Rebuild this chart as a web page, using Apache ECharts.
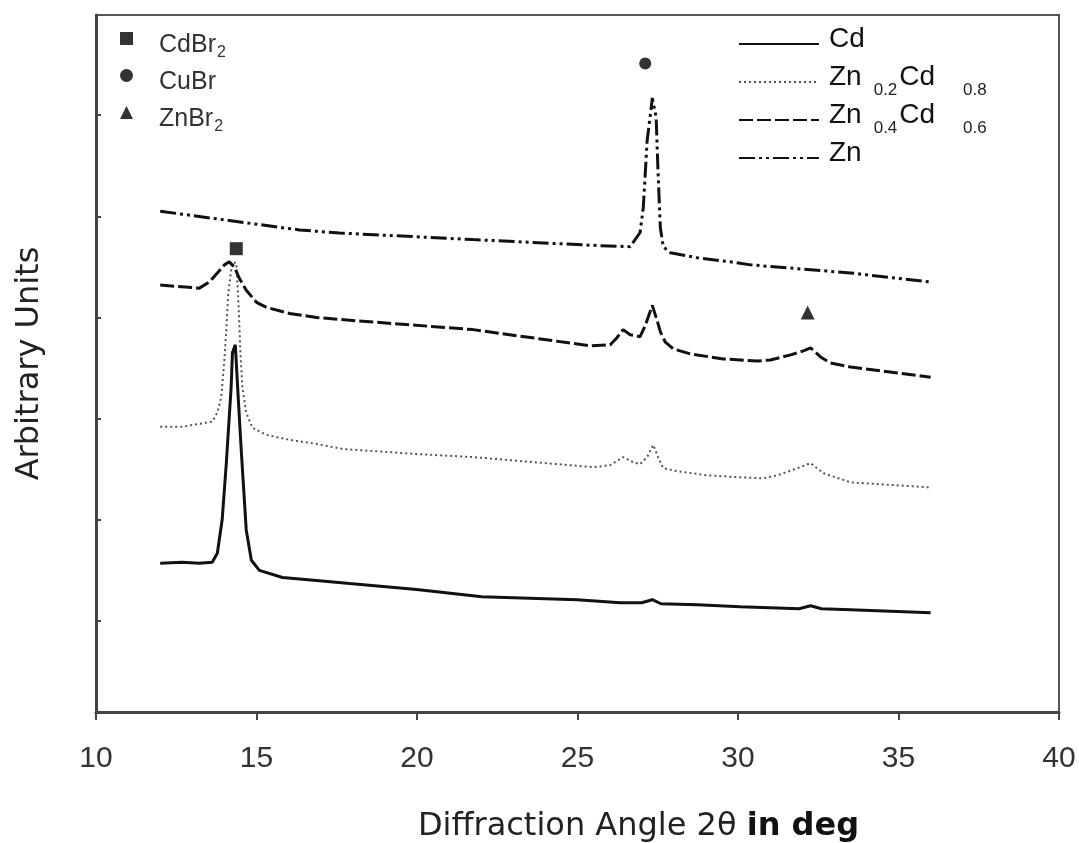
<!DOCTYPE html>
<html>
<head>
<meta charset="utf-8">
<script src="https://cdn.jsdelivr.net/npm/echarts@6/dist/echarts.min.js"></script>
<style>
html,body{margin:0;padding:0;background:#fff;}
#chart{width:1079px;height:843px;}
</style>
</head>
<body>
<div id="chart"></div>
<script>
// x: diffraction angle 2θ (deg), y: arbitrary intensity units
const cdData = [
  [12.0,57],[12.68,58],[13.22,57],[13.62,58],[13.78,67],[13.93,100],[14.06,156],[14.21,231],
  [14.25,265],[14.34,273],[14.43,221],[14.53,166],[14.68,90],[14.84,60],[15.09,50],[15.81,43],
  [16.87,40],[17.9,37],[19.99,31],[22.02,24],[24.99,21],[26.33,18],[27.0,18],[27.33,21],
  [27.6,17],[28.73,16],[30.07,14],[31.9,12],[32.26,15],[32.6,12],[33.51,11],[36.0,8]
];
const zn02Data = [
  [12.0,192],[12.68,192],[13.62,197],[13.78,206],[13.9,221],[14.0,258],[14.06,288],[14.12,324],
  [14.21,347],[14.25,354],[14.37,354],[14.43,320],[14.5,265],[14.56,231],[14.68,206],[14.87,191],
  [15.31,184],[16.03,179],[16.87,175],[17.68,170],[19.99,165],[21.74,162],[25.5,152],[26.02,154],
  [26.42,162],[26.73,157],[26.95,155],[27.17,162],[27.36,174],[27.51,162],[27.67,151],[28.11,148],
  [29.04,144],[30.07,142],[30.79,141],[31.23,144],[31.85,151],[32.26,156],[32.67,146],[33.51,137],[36.0,132]
];
const zn04Data = [
  [12.0,332],[13.22,329],[13.53,335],[13.78,344],[14.0,352],[14.15,355],[14.31,350],[14.46,339],
  [14.68,327],[15.0,315],[15.31,310],[16.03,304],[16.87,300],[17.6,298],[21.74,288],[25.39,272],
  [26.02,273],[26.23,280],[26.42,288],[26.64,283],[26.95,281],[27.11,292],[27.33,312],[27.48,297],
  [27.58,286],[27.73,276],[27.98,269],[28.51,264],[29.54,259],[30.61,257],[31.01,258],[31.64,263],
  [32.04,267],[32.26,270],[32.57,261],[32.88,255],[33.51,251],[36.0,241]
];
const znData = [
  [12.0,405],[16.34,386.5],[17.59,383.5],[21.74,377],[25.7,371],[26.64,370],[26.95,384],[27.05,409],
  [27.17,475],[27.30,508],[27.33,517],[27.45,498],[27.51,443],[27.58,389],[27.67,370],[27.89,364],
  [28.73,359],[29.76,355],[30.39,352],[33.51,344],[36.0,335]
];
// phase markers
const cdbr2Mark = [[14.37,368]];
const cubrMark = [[27.11,551]];
const znbr2Mark = [[32.17,305]];

const xTicks = [10,15,20,25,30,35,40];
const yTicks = [0,100,200,300,400,500];

const seriesNames = ['Cd','Zn0.2Cd0.8','Zn0.4Cd0.6','Zn'];
const markerNames = ['CdBr2','CuBr','ZnBr2'];

const legendRich = {
  'Cd': '{a|Cd}{s| }',
  'Zn0.2Cd0.8': '{a|Zn}{s|0.2}{a|Cd}{t|0.8}',
  'Zn0.4Cd0.6': '{a|Zn}{s|0.4}{a|Cd}{t|0.6}',
  'Zn': '{a|Zn}{s| }'
};
const markerRich = {
  'CdBr2': '{a|CdBr}{s|2}',
  'CuBr': '{a|CuBr}{s| }',
  'ZnBr2': '{a|ZnBr}{s|2}'
};

const chart = echarts.init(document.getElementById('chart'), null, {renderer:'canvas'});
const lineBase = {type:'line', showSymbol:false, symbol:'none', smooth:false, animation:false, silent:true};
const LS = "'Liberation Sans', Arial, sans-serif";

chart.setOption({
  animation:false,
  backgroundColor:'#fff',
  grid:{left:96, right:20, top:15, bottom:131, show:true, borderColor:'#555', borderWidth:2,
        containLabel:false, outerBoundsMode:'none'},
  xAxis:{
    type:'value', min:10, max:40, interval:5,
    splitLine:{show:false},
    axisLine:{onZero:false, lineStyle:{color:'#444', width:3}},
    axisTick:{inside:false, length:8, lineStyle:{color:'#444', width:2}},
    axisLabel:{margin:32, color:'#333', fontSize:30, fontFamily:LS,
      formatter: v => xTicks.indexOf(v) >= 0 ? String(v) : ''},
    name:'{n|Diffraction Angle 2θ }{b|in deg}',
    nameLocation:'middle', nameGap:99,
    nameTextStyle:{padding:[0,0,0,122], rich:{
      n:{fontFamily:'DejaVu Sans', fontSize:32, color:'#222'},
      b:{fontFamily:'DejaVu Sans', fontSize:32, fontWeight:'bold', color:'#111'}
    }}
  },
  yAxis:{
    type:'value', min:-90, max:599,
    splitLine:{show:false},
    axisLine:{show:true, onZero:false, lineStyle:{color:'#444', width:3}},
    axisTick:{show:true, inside:true, length:5, customValues:yTicks, lineStyle:{color:'#444', width:2}},
    axisLabel:{show:false},
    name:'Arbitrary Units', nameLocation:'middle', nameGap:50, nameRotate:90,
    nameTextStyle:{fontFamily:'DejaVu Sans', fontSize:32, color:'#222'}
  },
  legend:[
    {
      data:seriesNames, orient:'vertical', left:738, top:25, padding:0,
      itemWidth:80, itemHeight:14, itemGap:2, selectedMode:false,
      itemStyle:{opacity:0},
      formatter: n => legendRich[n],
      textStyle:{color:'#111', padding:[0,0,10,5], rich:{
        a:{fontFamily:LS, fontSize:28, lineHeight:28, verticalAlign:'top', color:'#111'},
        s:{fontFamily:LS, fontSize:17, lineHeight:17, verticalAlign:'top', color:'#222', padding:[19,2,0,12]},
        t:{fontFamily:LS, fontSize:17, lineHeight:17, verticalAlign:'top', color:'#222', padding:[19,0,0,28]}
      }}
    },
    {
      data:markerNames, orient:'vertical', left:120, top:32, padding:0,
      itemWidth:13, itemHeight:13, itemGap:8, selectedMode:false,
      formatter: n => markerRich[n],
      textStyle:{color:'#333', padding:[14,0,0,21], rich:{
        a:{fontFamily:LS, fontSize:25, lineHeight:25, verticalAlign:'top', color:'#333'},
        s:{fontFamily:LS, fontSize:16, lineHeight:16, verticalAlign:'top', color:'#333', padding:[12,0,0,1]}
      }}
    }
  ],
  series:[
    Object.assign({}, lineBase, {name:'Cd', data:cdData, z:3,
      lineStyle:{color:'#111', width:3, type:'solid'}, itemStyle:{color:'#111'}}),
    Object.assign({}, lineBase, {name:'Zn0.2Cd0.8', data:zn02Data, z:3,
      lineStyle:{color:'#555', width:2, type:[2,3]}, itemStyle:{color:'#555'}}),
    Object.assign({}, lineBase, {name:'Zn0.4Cd0.6', data:zn04Data, z:3,
      lineStyle:{color:'#111', width:3, type:[14,4]}, itemStyle:{color:'#111'}}),
    Object.assign({}, lineBase, {name:'Zn', data:znData, z:3,
      lineStyle:{color:'#111', width:3, type:[16,4,3,4,3,4]}, itemStyle:{color:'#111'}}),
    {type:'scatter', name:'CdBr2', data:cdbr2Mark, symbol:'rect', symbolSize:13, itemStyle:{color:'#000'}, silent:true},
    {type:'scatter', name:'CuBr', data:cubrMark, symbol:'circle', symbolSize:12, itemStyle:{color:'#000'}, silent:true},
    {type:'scatter', name:'ZnBr2', data:znbr2Mark, symbol:'triangle', symbolSize:14, itemStyle:{color:'#000'}, silent:true}
  ]
});
</script>
</body>
</html>
